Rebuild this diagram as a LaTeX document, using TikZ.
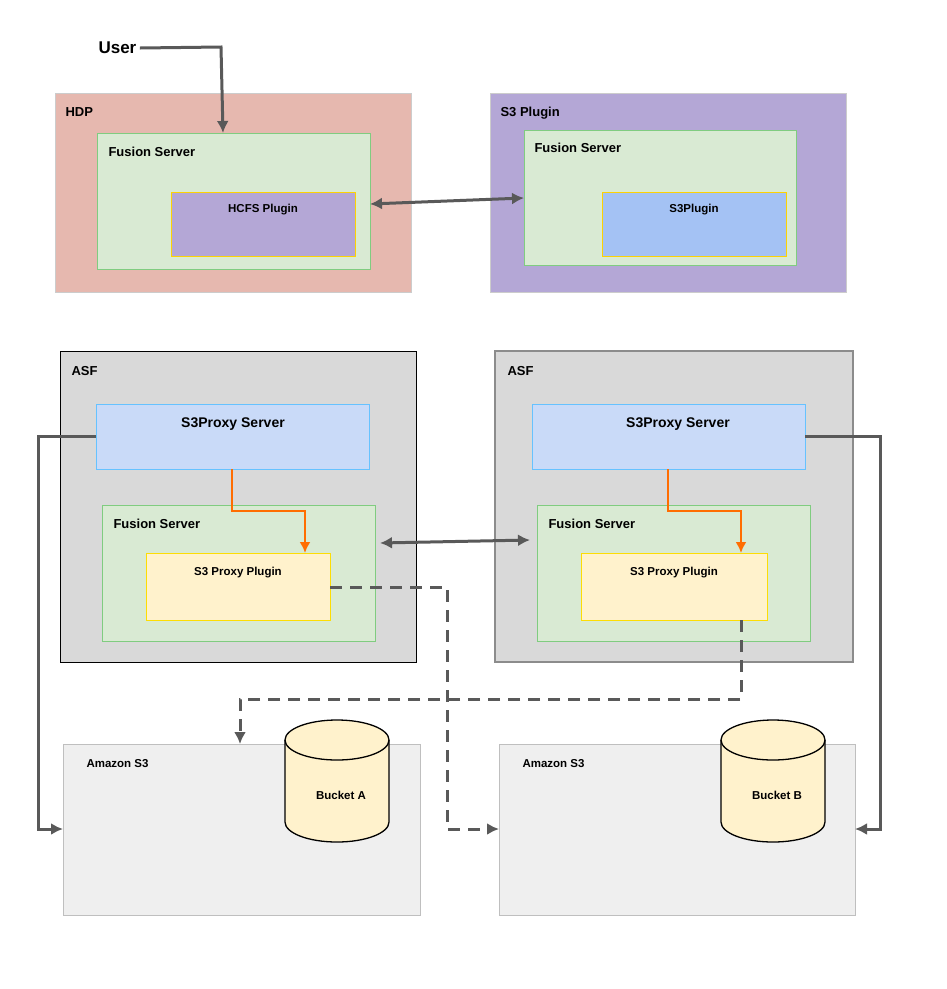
\documentclass[tikz,border=0pt]{standalone}
\usepackage{fontspec}
\setmainfont{Liberation Sans}
\usetikzlibrary{arrows.meta,shapes.geometric}
\definecolor{hdp}{HTML}{E6B8AF}\definecolor{purp}{HTML}{B4A7D6}
\definecolor{fus}{HTML}{D9EAD3}\definecolor{blu}{HTML}{A4C2F4}
\definecolor{lblu}{HTML}{C9DAF8}\definecolor{yel}{HTML}{FFF2CC}
\definecolor{asf}{HTML}{D9D9D9}\definecolor{s3}{HTML}{EFEFEF}
\definecolor{ln}{HTML}{595959}\definecolor{org}{HTML}{FF6D01}
\newcommand{\mycyl}[2]{%
 \filldraw[fill=yel,draw=black,line width=1.3pt] (#1-52,740) -- (#1-52,822) arc[start angle=180,end angle=360,x radius=52,y radius=-20] -- (#1+52,740) arc[start angle=0,end angle=180,x radius=52,y radius=-20] -- cycle;
 \draw[black,line width=1.3pt] (#1-52,740) arc[start angle=180,end angle=360,x radius=52,y radius=-20];}
\begin{document}
\begin{tikzpicture}[x=1pt,y=-1pt,
 lab/.style={font=\bfseries\fontsize{13}{15}\selectfont,anchor=north west},
 slab/.style={font=\bfseries\fontsize{11.5}{14}\selectfont},
 conn/.style={draw=ln,line width=3pt,-{Latex[length=12pt,width=12pt]}},
 dconn/.style={draw=ln,line width=3pt,{Latex[length=12pt,width=12pt]}-{Latex[length=12pt,width=12pt]}},
 oconn/.style={draw=org,line width=2.6pt,-{Latex[length=11pt,width=11pt]}},
 dashconn/.style={draw=ln,line width=3pt,dash pattern=on 12pt off 8pt,-{Latex[length=12pt,width=12pt]}}]
\useasboundingbox (0,0) rectangle (947,989);
% top
\node[lab,font=\bfseries\fontsize{17}{20}\selectfont,anchor=west] (user) at (95,48) {User};
\filldraw[fill=hdp,draw=black!20,line width=1pt] (55,93) rectangle (411,292);
\node[lab] (hdp) at (62,104) {HDP};
\filldraw[fill=fus,draw=green!60!black!50,line width=1pt] (97,133) rectangle (370,269);
\coordinate (fs1top) at (223,133);
\node[lab] at (105,144) {Fusion Server};
\filldraw[fill=purp,draw=yellow!70!orange,line width=1pt] (171,192) rectangle (355,256);
\node[slab] at (263,210) {HCFS Plugin};
\filldraw[fill=purp,draw=black!20,line width=1pt] (490,93) rectangle (846,292);
\node[lab] at (497,104) {S3 Plugin};
\filldraw[fill=fus,draw=green!60!black!50,line width=1pt] (524,130) rectangle (796,265);
\node[lab] at (531,140) {Fusion Server};
\filldraw[fill=blu,draw=yellow!70!orange,line width=1pt] (602,192) rectangle (786,256);
\node[slab] at (694,210) {S3Plugin};
\coordinate (a1) at (370,204); \coordinate (a2) at (524,198);
\draw[dconn] (a1) -- (a2);
\draw[conn] (user.east) -- (221,47) -- (fs1top);
% ASF
\filldraw[fill=asf,draw=black,line width=1pt] (60,351) rectangle (416,662);
\node[lab] at (68,363) {ASF};
\filldraw[fill=asf,draw=black!45,line width=2.5pt] (495,351) rectangle (853,662);
\node[lab] at (504,363) {ASF};
\filldraw[fill=lblu,draw=blue!40!cyan!60,line width=1pt] (96,404) rectangle (369,469);
\node[lab,anchor=center,font=\bfseries\fontsize{14}{16}\selectfont] (p1) at (233,424) {S3Proxy Server};
\filldraw[fill=lblu,draw=blue!40!cyan!60,line width=1pt] (532,404) rectangle (805,469);
\node[lab,anchor=center,font=\bfseries\fontsize{14}{16}\selectfont] (p2) at (678,424) {S3Proxy Server};
\filldraw[fill=fus,draw=green!60!black!50,line width=1pt] (102,505) rectangle (375,641);
\node[lab] at (110,516) {Fusion Server};
\filldraw[fill=fus,draw=green!60!black!50,line width=1pt] (537,505) rectangle (810,641);
\node[lab] at (545,516) {Fusion Server};
\filldraw[fill=yel,draw=yellow!80!orange,line width=1pt] (146,553) rectangle (330,620);
\node[slab] (pl1) at (238,573) {S3 Proxy Plugin};
\filldraw[fill=yel,draw=yellow!80!orange,line width=1pt] (581,553) rectangle (767,620);
\node[slab] (pl2) at (674,573) {S3 Proxy Plugin};
\draw[oconn] (232,469) -- (232,511) -- (305,511) -- (305,553);
\draw[oconn] (668,469) -- (668,511) -- (741,511) -- (741,553);
\coordinate (b1) at (380,543); \coordinate (b2) at (530,540);
\draw[dconn] (b1) -- (b2);
% S3
\filldraw[fill=s3,draw=black!25,line width=1pt] (63,744) rectangle (420,915);
\node[slab,anchor=north west] at (83,756) {Amazon S3};
\filldraw[fill=s3,draw=black!25,line width=1pt] (499,744) rectangle (855,915);
\node[slab,anchor=north west] at (519,756) {Amazon S3};
\mycyl{337}{}
\node[slab] (ba) at (341,795) {Bucket A};
\mycyl{773}{}
\node[slab] (bb) at (777,795) {Bucket B};
\draw[conn] (96,436) -- (38,436) -- (38,829) -- (63,829);
\draw[conn] (805,436) -- (880,436) -- (880,829) -- (855,829);
\draw[dashconn] (330,587) -- (447,587) -- (447,829) -- (499,829);
\draw[dashconn] (741,620) -- (741,699) -- (240,699) -- (240,744);
\end{tikzpicture}
\end{document}
